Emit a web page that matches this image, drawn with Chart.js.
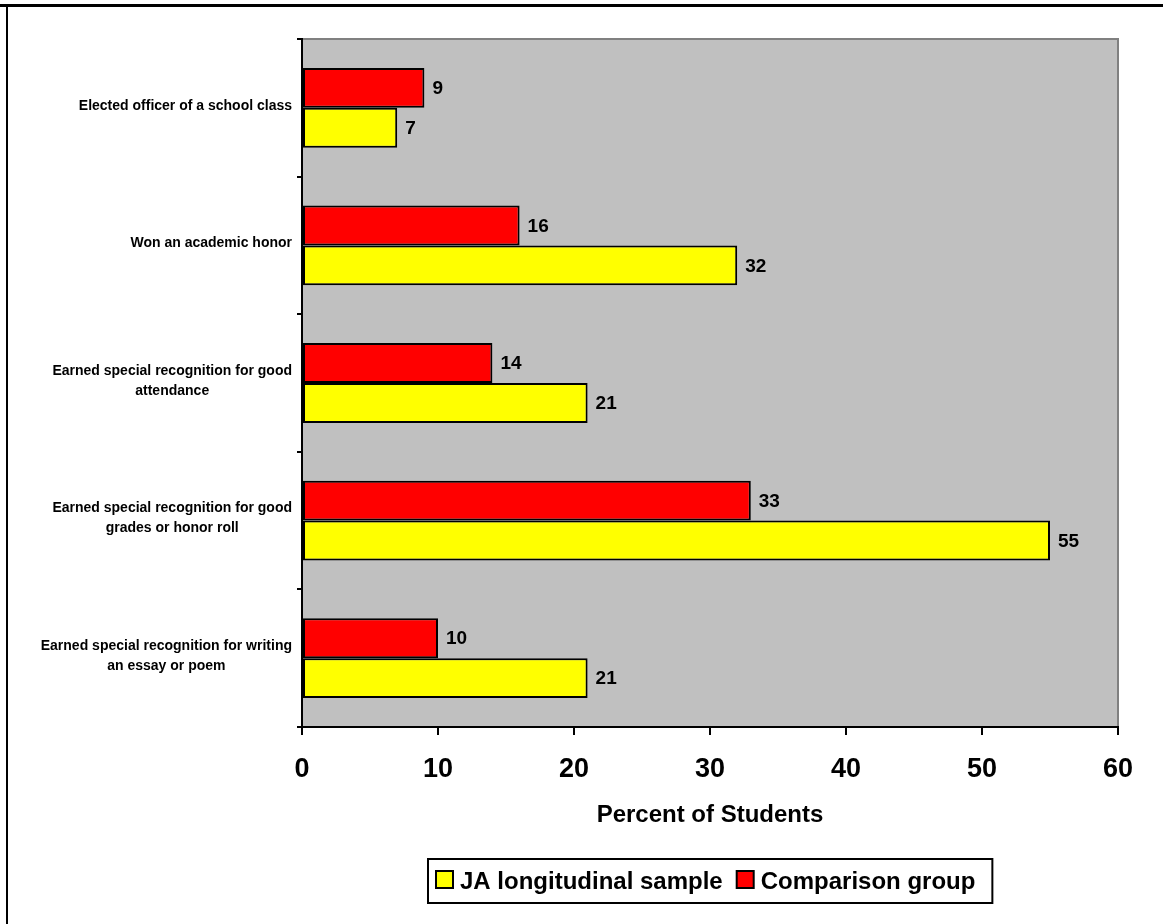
<!DOCTYPE html>
<html>
<head>
<meta charset="utf-8">
<script src="https://cdn.jsdelivr.net/npm/chart.js@4.4.1/dist/chart.umd.min.js"></script>
<style>
  html, body { margin: 0; padding: 0; background: #fff; }
  #wrap { width: 1163px; height: 924px; }
</style>
</head>
<body>
<div id="wrap"><canvas id="chart"></canvas></div>
<script>
const categories = [
  ["Elected officer of a school class"],
  ["Won an academic honor"],
  ["Earned special recognition for good", "attendance"],
  ["Earned special recognition for good", "grades or honor roll"],
  ["Earned special recognition for writing", "an essay or poem"]
];
const comparisonGroup = [9, 16, 14, 33, 10];
const jaSample = [7, 32, 21, 55, 21];
const xTicks = [0, 10, 20, 30, 40, 50, 60];

const FONT = '"Liberation Sans", Arial, Helvetica, sans-serif';

// grey plot background, its top/right edge and the outer frame lines
const backdrop = {
  id: "backdrop",
  beforeDraw(chart) {
    const { ctx, chartArea: a } = chart;
    ctx.save();
    ctx.fillStyle = "#fff";
    ctx.fillRect(0, 0, chart.width, chart.height);
    ctx.fillStyle = "#c0c0c0";
    ctx.fillRect(a.left, a.top, a.right - a.left, a.bottom - a.top);
    ctx.strokeStyle = "#808080";
    ctx.lineWidth = 2;
    ctx.beginPath();
    ctx.moveTo(a.left, a.top);
    ctx.lineTo(a.right, a.top);
    ctx.lineTo(a.right, a.bottom);
    ctx.stroke();

    ctx.strokeStyle = "#000";
    ctx.lineWidth = 3;
    ctx.beginPath();
    ctx.moveTo(0, 5.5);
    ctx.lineTo(chart.width, 5.5);
    ctx.stroke();
    ctx.lineWidth = 2;
    ctx.beginPath();
    ctx.moveTo(7, 5);
    ctx.lineTo(7, chart.height);
    ctx.stroke();
    ctx.restore();
  }
};

// numbers at the end of every bar
const valueLabels = {
  id: "valueLabels",
  afterDatasetsDraw(chart) {
    const { ctx } = chart;
    ctx.save();
    ctx.font = "bold 19px " + FONT;
    ctx.fillStyle = "#000";
    ctx.textAlign = "left";
    ctx.textBaseline = "middle";
    chart.data.datasets.forEach((ds, i) => {
      chart.getDatasetMeta(i).data.forEach((bar, j) => {
        ctx.fillText(String(ds.data[j]), bar.x + 8, bar.y + 1);
      });
    });
    ctx.restore();
  }
};

// category names: block right-aligned to the axis, lines centred in the block
const categoryLabels = {
  id: "categoryLabels",
  afterDraw(chart) {
    const { ctx } = chart;
    const y = chart.scales.y;
    const right = y.right - 10;
    const lineH = 20;
    ctx.save();
    ctx.font = "bold 14px " + FONT;
    ctx.fillStyle = "#000";
    ctx.textAlign = "center";
    ctx.textBaseline = "middle";
    chart.data.labels.forEach((lines, i) => {
      const w = Math.max(...lines.map(t => ctx.measureText(t).width));
      const cx = right - w / 2;
      const cy = y.getPixelForValue(i) - 2;
      lines.forEach((t, k) => {
        ctx.fillText(t, cx, cy + (k - (lines.length - 1) / 2) * lineH);
      });
    });
    ctx.restore();
  }
};

// boxed legend under the axis title, centred on the plot
const boxLegend = {
  id: "boxLegend",
  afterDraw(chart) {
    const { ctx, chartArea: a } = chart;
    const items = chart.data.datasets.slice().reverse();
    const sq = 17, gap = 7, itemGap = 14;
    ctx.save();
    ctx.font = "bold 24px " + FONT;
    const widths = items.map(d => ctx.measureText(d.label).width);
    const content = widths.reduce((s, w) => s + sq + gap + w, 0) + itemGap * (items.length - 1);
    const boxW = 8 + content + 17;
    const boxH = 44;
    const boxX = Math.round((a.left + a.right) / 2 - boxW / 2);
    const boxY = chart.height - 65;
    const cy = boxY + boxH / 2;

    ctx.strokeStyle = "#000";
    ctx.lineWidth = 2;
    ctx.strokeRect(boxX, boxY, boxW, boxH);

    let x = boxX + 8;
    ctx.textAlign = "left";
    ctx.textBaseline = "middle";
    items.forEach((d, i) => {
      ctx.fillStyle = d.backgroundColor;
      ctx.fillRect(x, cy - 10, sq, sq);
      ctx.strokeRect(x, cy - 10, sq, sq);
      x += sq + gap;
      ctx.fillStyle = "#000";
      ctx.fillText(d.label, x, cy + 1);
      x += widths[i] + itemGap;
    });
    ctx.restore();
  }
};

new Chart(document.getElementById("chart"), {
  type: "bar",
  data: {
    labels: categories,
    datasets: [
      {
        label: "Comparison group",
        data: comparisonGroup,
        backgroundColor: "#ff0000",
        borderColor: "#000",
        borderWidth: 2,
        borderSkipped: false
      },
      {
        label: "JA longitudinal sample",
        data: jaSample,
        backgroundColor: "#ffff00",
        borderColor: "#000",
        borderWidth: 2,
        borderSkipped: false
      }
    ]
  },
  options: {
    indexAxis: "y",
    responsive: true,
    maintainAspectRatio: false,
    animation: false,
    categoryPercentage: 0.58,
    barPercentage: 1,
    layout: { padding: { top: 39, right: 45, bottom: 94, left: 0 } },
    scales: {
      x: {
        min: xTicks[0],
        max: xTicks[xTicks.length - 1],
        ticks: {
          stepSize: xTicks[1] - xTicks[0],
          color: "#000",
          font: { family: FONT, size: 27, weight: "bold" },
          padding: 18,
          maxRotation: 0
        },
        grid: { drawOnChartArea: false, tickLength: 8, color: "#000", lineWidth: 2 },
        border: { color: "#000", width: 2 },
        title: {
          display: true,
          text: "Percent of Students",
          color: "#000",
          font: { family: FONT, size: 24, weight: "bold" },
          padding: { top: 0, bottom: 0 }
        },
        afterFit(s) { s.height = 103; }
      },
      y: {
        ticks: { display: false },
        grid: { drawOnChartArea: false, offset: true, tickLength: 5, color: "#000", lineWidth: 2 },
        border: { color: "#000", width: 2 },
        afterFit(s) { s.width = 302; }
      }
    },
    plugins: {
      legend: { display: false },
      tooltip: { enabled: false }
    }
  },
  plugins: [backdrop, valueLabels, categoryLabels, boxLegend]
});
</script>
</body>
</html>
